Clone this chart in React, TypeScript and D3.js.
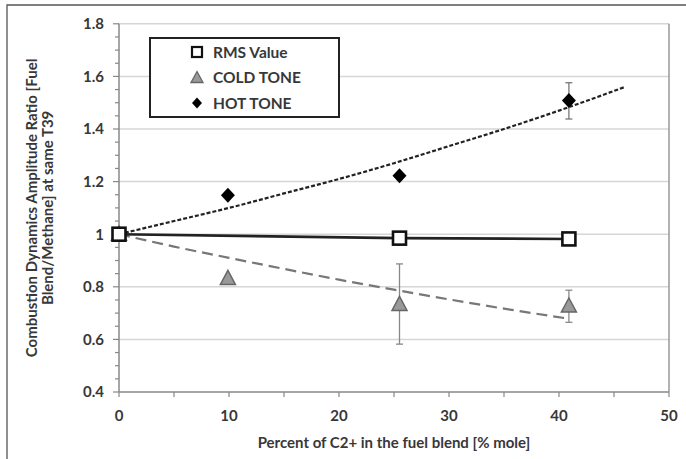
import React from 'react';
import * as d3 from 'd3';

// measured points
const rmsX = [0, 25.5, 40.9];
const rmsY = [1.0, 0.985, 0.982];

const coldX = [0, 9.9, 25.5, 40.9];
const coldY = [1.0, 0.832, 0.733, 0.727];
const coldLo = [null, null, 0.582, 0.665];
const coldHi = [null, null, 0.887, 0.787];

const hotX = [0, 9.9, 25.5, 40.9];
const hotY = [1.0, 1.148, 1.222, 1.508];
const hotLo = [null, null, null, 1.438];
const hotHi = [null, null, null, 1.576];

// trend lines
const hotTrendX = [0, 5, 10, 15, 20, 25, 30, 35, 40, 46];
const hotTrendY = [1.0, 1.05, 1.1, 1.155, 1.21, 1.27, 1.335, 1.4, 1.47, 1.56];
const coldTrendX = [0, 5, 10, 15, 20, 25, 30, 35, 40.5];
const coldTrendY = [1.0, 0.953, 0.91, 0.868, 0.827, 0.789, 0.752, 0.717, 0.681];

const yTicks = [0.4, 0.6, 0.8, 1, 1.2, 1.4, 1.6, 1.8];
const xTicks = [0, 10, 20, 30, 40, 50];

const legendItems = ['RMS Value', 'COLD TONE', 'HOT TONE'];

const font = "Lato, 'Open Sans', sans-serif";
const textColor = '#383838';

export default function App() {
  const width = 686;
  const height = 459;
  const pad = { left: 119, right: 669, top: 23.8, bottom: 392 };

  const x = d3.scaleLinear().domain([0, 50]).range([pad.left, pad.right]);
  const y = d3.scaleLinear().domain([0.4, 1.8]).range([pad.bottom, pad.top]);

  const line = d3
    .line<[number, number]>()
    .x((d) => x(d[0]))
    .y((d) => y(d[1]));
  const curve = d3
    .line<[number, number]>()
    .x((d) => x(d[0]))
    .y((d) => y(d[1]))
    .curve(d3.curveMonotoneX);

  const zip = (a: number[], b: number[]) => a.map((v, i) => [v, b[i]] as [number, number]);

  const minorY = d3.range(0.4, 1.8001, 0.05);
  const minorX = d3.range(0, 50.001, 5);

  const square = (cx: number, cy: number, key: string) => (
    <rect key={key} x={cx - 6.5} y={cy - 6.5} width={13} height={13} fill="#fff" stroke="#111" strokeWidth={2.6} />
  );
  const triangle = (cx: number, cy: number, key: string) => (
    <path
      key={key}
      d={`M${cx},${cy - 8} L${cx + 7.5},${cy + 6} L${cx - 7.5},${cy + 6} Z`}
      fill="#999"
      stroke="#666"
      strokeWidth={1.5}
    />
  );
  const diamond = (cx: number, cy: number, key: string) => (
    <path key={key} d={`M${cx},${cy - 7.5} L${cx + 7},${cy} L${cx},${cy + 7.5} L${cx - 7},${cy} Z`} fill="#000" />
  );

  const errBar = (xv: number, lo: number | null, hi: number | null, color: string, key: string) =>
    lo === null || hi === null ? null : (
      <g key={key} stroke={color} strokeWidth={1.3}>
        <line x1={x(xv)} x2={x(xv)} y1={y(lo)} y2={y(hi)} />
        <line x1={x(xv) - 3.5} x2={x(xv) + 3.5} y1={y(lo)} y2={y(lo)} />
        <line x1={x(xv) - 3.5} x2={x(xv) + 3.5} y1={y(hi)} y2={y(hi)} />
      </g>
    );

  const txt = { fontFamily: font, fontWeight: 700, fontSize: 15, fill: textColor };

  return (
    <svg width={width} height={height} style={{ position: 'absolute', left: 0, top: 0, background: '#fff' }}>
      <rect x={0} y={0} width={width} height={height} fill="#fff" />
      {/* outer frame */}
      <path d={`M7,${height} L7,5 L${width},5`} fill="none" stroke="#555" strokeWidth={1.3} />

      {/* grid */}
      {yTicks.slice(1).map((t) => (
        <line key={'g' + t} x1={pad.left} x2={pad.right} y1={y(t)} y2={y(t)} stroke="#d6d6d6" strokeWidth={1.5} />
      ))}
      <line x1={pad.right} x2={pad.right} y1={pad.top} y2={pad.bottom} stroke="#999" strokeWidth={1.5} />

      {/* axes */}
      <line x1={pad.left} x2={pad.left} y1={pad.top} y2={pad.bottom} stroke="#888" strokeWidth={1.5} />
      <line x1={pad.left} x2={pad.right} y1={pad.bottom} y2={pad.bottom} stroke="#888" strokeWidth={1.5} />
      {minorY.map((t, i) => (
        <line
          key={'my' + i}
          x1={pad.left - (i % 4 === 0 ? 6 : 4)}
          x2={pad.left}
          y1={y(t)}
          y2={y(t)}
          stroke="#888"
          strokeWidth={1.2}
        />
      ))}
      {minorX.map((t, i) => (
        <line key={'mx' + i} x1={x(t)} x2={x(t)} y1={pad.bottom} y2={pad.bottom + 5} stroke="#888" strokeWidth={1.2} />
      ))}
      {yTicks.map((t) => (
        <text key={'yl' + t} x={104} y={y(t)} dy="0.36em" textAnchor="end" {...txt}>
          {d3.format('~g')(t)}
        </text>
      ))}
      {xTicks.map((t) => (
        <text key={'xl' + t} x={x(t)} y={421} textAnchor="middle" {...txt}>
          {t}
        </text>
      ))}
      <text x={(pad.left + pad.right) / 2} y={448} textAnchor="middle" {...txt}>
        Percent of C2+ in the fuel blend [% mole]
      </text>
      <g transform={`translate(0,${(pad.top + pad.bottom) / 2}) rotate(-90)`}>
        <text x={0} y={37} textAnchor="middle" {...txt}>
          Combustion Dynamics Amplitude Ratio [Fuel
        </text>
        <text x={0} y={53} textAnchor="middle" {...txt}>
          Blend/Methane] at same T39
        </text>
      </g>

      {/* trend lines */}
      <path d={curve(zip(coldTrendX, coldTrendY)) || ''} fill="none" stroke="#777" strokeWidth={2.2} strokeDasharray="11,6" />
      <path d={curve(zip(hotTrendX, hotTrendY)) || ''} fill="none" stroke="#222" strokeWidth={2.2} strokeDasharray="4,2" />
      <path d={line(zip(rmsX, rmsY)) || ''} fill="none" stroke="#222" strokeWidth={2.6} />

      {/* error bars */}
      {coldX.map((v, i) => errBar(v, coldLo[i], coldHi[i], '#888', 'ce' + i))}
      {hotX.map((v, i) => errBar(v, hotLo[i], hotHi[i], '#777', 'he' + i))}

      {/* markers */}
      {coldX.map((v, i) => triangle(x(v), y(coldY[i]), 'c' + i))}
      {hotX.map((v, i) => diamond(x(v), y(hotY[i]), 'h' + i))}
      {rmsX.map((v, i) => square(x(v), y(rmsY[i]), 'r' + i))}

      {/* legend */}
      <rect x={150} y={38} width={189} height={79} fill="#fff" stroke="#222" strokeWidth={2} />
      {legendItems.map((name, i) => {
        const cy = 52 + i * 25.5;
        return (
          <g key={name}>
            {i === 0 ? (
              <rect x={192} y={cy - 5} width={10} height={10} fill="#fff" stroke="#111" strokeWidth={2.2} />
            ) : i === 1 ? (
              <path d={`M197,${cy - 6} L203,${cy + 5} L191,${cy + 5} Z`} fill="#999" stroke="#666" strokeWidth={1.3} />
            ) : (
              <path d={`M197,${cy - 5.5} L202,${cy} L197,${cy + 5.5} L192,${cy} Z`} fill="#000" />
            )}
            <text x={213} y={cy} dy="0.36em" {...txt} fontSize={15.5}>
              {name}
            </text>
          </g>
        );
      })}
    </svg>
  );
}
